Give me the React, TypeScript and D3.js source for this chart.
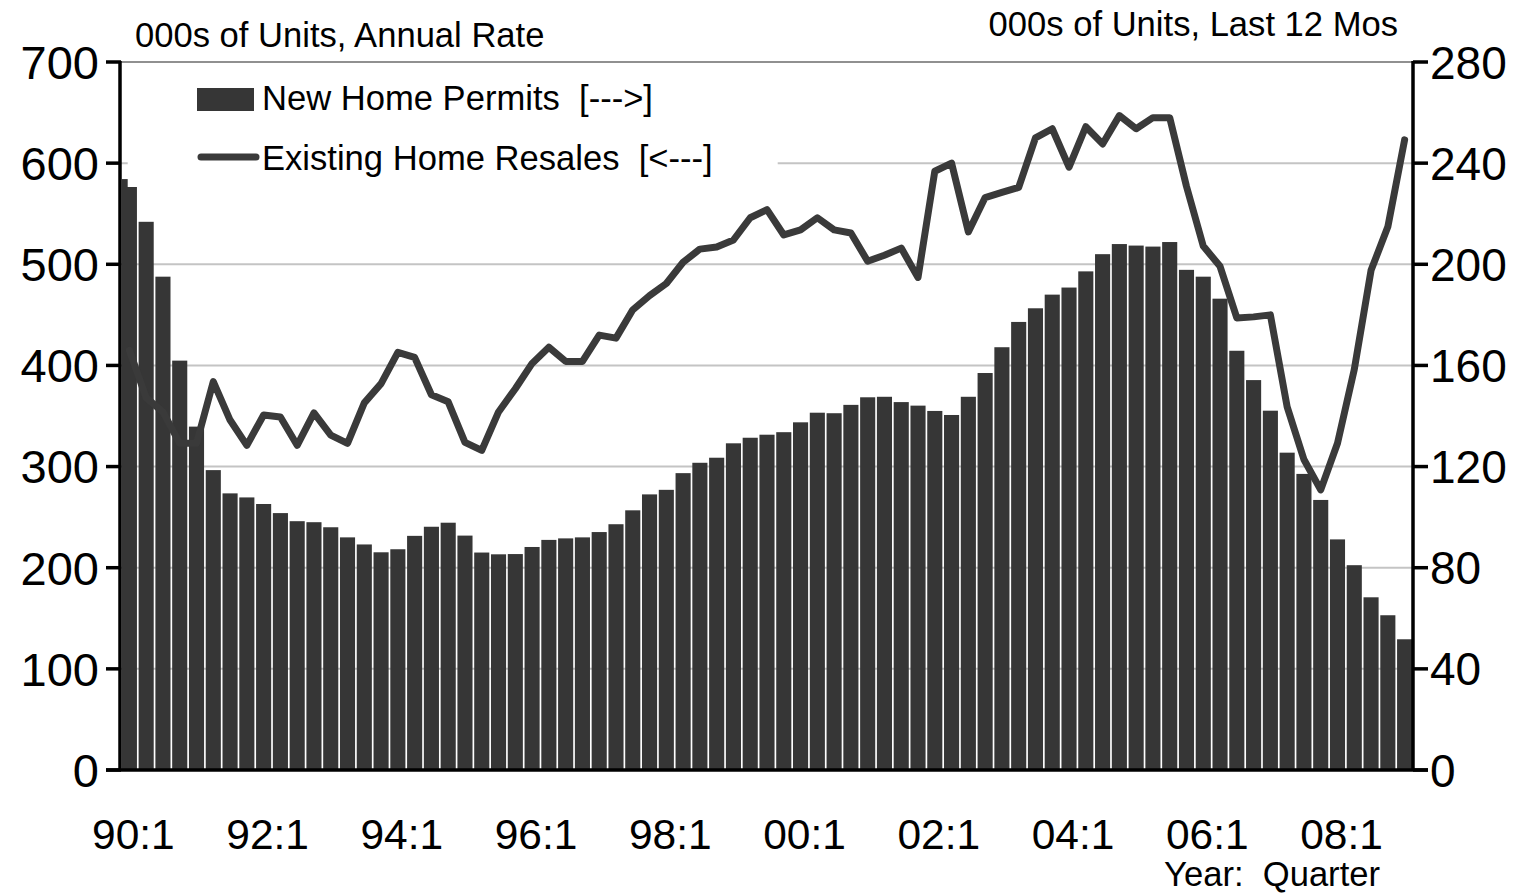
import React from 'react';
import * as d3 from 'd3';

// Quarters 90:1 .. 09:1
const quarters: string[] = [];
for (let y = 1990; y <= 2009; y++) {
  for (let q = 1; q <= 4; q++) {
    if (y === 2009 && q > 1) break;
    quarters.push(`${String(y % 100).padStart(2, '0')}:${q}`);
  }
}

const tickLabels = ['90:1', '92:1', '94:1', '96:1', '98:1', '00:1', '02:1', '04:1', '06:1', '08:1'];

// New home permits, 000s of units, last 12 months (right axis)
const permits = [
  233.7, 216.8, 195.1, 161.9, 135.8, 118.6, 109.4, 107.8, 105.2, 101.6,
  98.4, 98.0, 96.0, 92.0, 89.2, 86.1, 87.3, 92.6, 96.2, 97.8,
  92.7, 86.0, 85.3, 85.4, 88.2, 91.0, 91.6, 92.0, 94.1, 97.2,
  102.7, 109.0, 110.8, 117.4, 121.5, 123.5, 129.2, 131.4, 132.6, 133.6,
  137.5, 141.3, 141.1, 144.4, 147.4, 147.6, 145.5, 144.1, 142.0, 140.4,
  147.6, 157.0, 167.2, 177.2, 182.6, 188.0, 190.8, 197.2, 204.0, 208.0,
  207.4, 207.0, 208.8, 197.8, 195.1, 186.4, 165.8, 154.2, 142.1, 125.5,
  117.1, 106.8, 91.2, 81.0, 68.3, 61.2, 51.7,
];

// Existing home resales, 000s of units, annual rate (left axis)
const resales = [
  415, 368, 354, 323, 323, 384, 346, 321, 351, 349,
  321, 353, 331, 323, 363, 382, 413, 408, 371, 364,
  324, 316, 354, 377, 402, 418, 404, 404, 430, 427,
  455, 469, 481, 502, 515, 517, 524, 546, 554, 529,
  534, 546, 534, 531, 503, 509, 516, 487, 592, 600,
  532, 566, 571, 576, 625, 634, 596, 636, 619, 647,
  634, 645, 645, 577, 518, 498, 447, 448, 450, 359,
  307, 277, 323, 396, 494, 537, 623,
];

const leftTicks = [0, 100, 200, 300, 400, 500, 600, 700];
const rightTicks = [0, 40, 80, 120, 160, 200, 240, 280];

const FONT = '"Liberation Sans", Arial, sans-serif';
const DARK = '#363636';
const LABEL_SIZE = 34.6;

export default function App() {
  const width = 1528;
  const height = 894;
  const left = 121;
  const right = 1413;
  const top = 62;
  const bottom = 770;

  const x = d3.scaleBand<string>()
    .domain(quarters)
    .range([left, right])
    .paddingInner(0.1)
    .paddingOuter(0.05);

  const yLeft = d3.scaleLinear().domain([0, 700]).range([bottom, top]);
  const yRight = d3.scaleLinear().domain([0, 280]).range([bottom, top]);

  const line = d3.line<number>()
    .x((d, i) => (x(quarters[i]) as number) + x.bandwidth() / 2)
    .y(d => yLeft(d));

  return (
    <div style={{ position: 'absolute', left: 0, top: 0 }}>
      <svg width={width} height={height} style={{ display: 'block', background: '#fff' }}>
        {/* grid */}
        {leftTicks.filter(t => t > 0 && t < 700).map(t => (
          <line key={t} x1={left} x2={right} y1={yLeft(t)} y2={yLeft(t)} stroke="#c4c4c4" strokeWidth={2} />
        ))}
        {/* top border */}
        <line x1={left} x2={right} y1={top} y2={top} stroke="#222" strokeWidth={1.2} />

        {/* bars */}
        {permits.map((v, i) => (
          <rect key={i}
            x={x(quarters[i])}
            y={yRight(v)}
            width={x.bandwidth()}
            height={bottom - yRight(v)}
            fill={DARK} />
        ))}

        {/* legend box */}
        <rect x={127.7} y={66} width={650} height={121} fill="#fff" />
        <rect x={197} y={88} width={57} height={23} fill={DARK} />
        <text x={262} y={110} fontFamily={FONT} fontSize={LABEL_SIZE} fill="#000" style={{ whiteSpace: 'pre' }}>New Home Permits  [---&gt;]</text>
        <line x1={201} x2={256} y1={157} y2={157} stroke="#3a3a3a" strokeWidth={7} strokeLinecap="round" />
        <text x={262} y={170} fontFamily={FONT} fontSize={LABEL_SIZE} fill="#000" style={{ whiteSpace: 'pre' }}>Existing Home Resales  [&lt;---]</text>

        {/* line */}
        <path d={line(resales) ?? ''} fill="none" stroke="#3a3a3a" strokeWidth={7} strokeLinejoin="round" strokeLinecap="round" />

        {/* axes */}
        <line x1={left - 1} x2={left - 1} y1={top - 1} y2={bottom + 1} stroke="#000" strokeWidth={3.5} />
        <line x1={right} x2={right} y1={top - 1} y2={bottom + 1} stroke="#000" strokeWidth={3.5} />
        <line x1={106} x2={1428} y1={bottom} y2={bottom} stroke="#000" strokeWidth={3.5} />
        {leftTicks.map(t => (
          <g key={t}>
            <line x1={106} x2={left} y1={yLeft(t)} y2={yLeft(t)} stroke="#000" strokeWidth={3.5} />
            <text x={99} y={yLeft(t)} dy="0.36em" textAnchor="end" fontFamily={FONT} fontSize={47} fill="#000">{t}</text>
          </g>
        ))}
        {rightTicks.map(t => (
          <g key={t}>
            <line x1={right} x2={1428} y1={yRight(t)} y2={yRight(t)} stroke="#000" strokeWidth={3.5} />
            <text x={1430} y={yRight(t)} dy="0.36em" textAnchor="start" fontFamily={FONT} fontSize={46} fill="#000">{t}</text>
          </g>
        ))}
        {tickLabels.map(l => (
          <text key={l} x={(x(l) as number) + x.bandwidth() / 2 + 4} y={849} textAnchor="middle" fontFamily={FONT} fontSize={42.5} fill="#000">{l}</text>
        ))}

        {/* titles */}
        <text x={135} y={47} fontFamily={FONT} fontSize={LABEL_SIZE} fill="#000">000s of Units, Annual Rate</text>
        <text x={1398} y={36} textAnchor="end" fontFamily={FONT} fontSize={LABEL_SIZE} fill="#000">000s of Units, Last 12 Mos</text>
        <text x={1380} y={886} textAnchor="end" fontFamily={FONT} fontSize={LABEL_SIZE} fill="#000" style={{ whiteSpace: 'pre' }}>Year:  Quarter</text>
      </svg>
    </div>
  );
}
